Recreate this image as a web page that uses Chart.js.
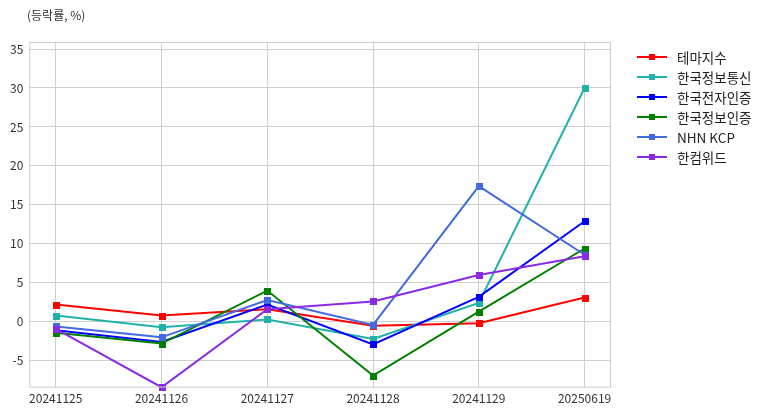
<!DOCTYPE html>
<html>
<head>
<meta charset="utf-8">
<script src="https://cdn.jsdelivr.net/npm/chart.js@4.4.0/dist/chart.umd.min.js"></script>
<style>
  html, body { margin: 0; padding: 0; background: #fff; }
  #wrap { width: 775px; height: 416px; position: relative; font-family: 'Noto Sans CJK KR', 'Noto Sans', sans-serif; }
  #yTitle { position: absolute; left: 27px; top: 6px; font-size: 12px; color: #333; line-height: 18px; }
  #legend { position: absolute; left: 637px; top: 47px; }
  .item { position: relative; height: 20px; line-height: 20px; font-size: 13.5px; color: #222; padding-left: 40px; white-space: nowrap; }
  .item .ln { position: absolute; left: 0; top: 9px; width: 30px; height: 2px; }
  .item .sq { position: absolute; left: 12px; top: 7px; width: 6px; height: 6px; }
</style>
</head>
<body>
<div id="wrap">
  <canvas id="rateChart"></canvas>
  <div id="yTitle">(등락률, %)</div>
  <div id="legend"></div>
</div>
<script>
// Data
const dates = ['20241125', '20241126', '20241127', '20241128', '20241129', '20250619'];
const seriesNames = ['테마지수', '한국정보통신', '한국전자인증', '한국정보인증', 'NHN KCP', '한컴위드'];
const themeIndex   = [2.2, 0.8, 1.6, -0.5, -0.2, 3.1];
const kicc         = [0.8, -0.7, 0.3, -2.2, 2.4, 30.0];
const crosscert    = [-1.1, -2.6, 2.2, -2.9, 3.2, 12.9];
const kica         = [-1.4, -2.8, 4.0, -6.9, 1.3, 9.4];
const nhnKcp       = [-0.6, -2.0, 2.8, -0.4, 17.4, 8.6];
const hancomWith   = [-0.9, -8.4, 1.6, 2.6, 6.0, 8.4];
const yTicks = [-5, 0, 5, 10, 15, 20, 25, 30, 35];

const seriesValues = [themeIndex, kicc, crosscert, kica, nhnKcp, hancomWith];
const seriesColors = ['#ff0000', '#20b2aa', '#0000ff', '#008000', '#4169e1', '#8a2be2'];
const FONT = "'Noto Sans CJK KR', 'Noto Sans', sans-serif";

// HTML legend: line with a square marker, then the name
const legendEl = document.getElementById('legend');
seriesNames.forEach((name, i) => {
    const row = document.createElement('div');
    row.className = 'item';
    row.innerHTML = '<span class="ln"></span><span class="sq"></span>';
    row.querySelector('.ln').style.background = seriesColors[i];
    row.querySelector('.sq').style.background = seriesColors[i];
    row.appendChild(document.createTextNode(name));
    legendEl.appendChild(row);
});

// Box around the plot area (all four sides)
const frameBox = {
    id: 'frameBox',
    afterDraw(chart) {
        const a = chart.chartArea;
        const c = chart.ctx;
        c.save();
        c.strokeStyle = '#cccccc';
        c.lineWidth = 1;
        c.strokeRect(a.left + 0.5, a.top + 0.5, a.right - a.left - 1, a.bottom - a.top - 1);
        c.restore();
    }
};

// Square markers drawn after all lines
const squareMarkers = {
    id: 'squareMarkers',
    afterDatasetsDraw(chart) {
        const c = chart.ctx;
        c.save();
        chart.data.datasets.forEach((ds, i) => {
            const meta = chart.getDatasetMeta(i);
            c.fillStyle = ds.borderColor;
            meta.data.forEach(pt => {
                c.fillRect(Math.round(pt.x) - 3, Math.round(pt.y) - 3, 7, 7);
            });
        });
        c.restore();
    }
};

const datasets = seriesNames.map((name, i) => ({
    label: name,
    data: seriesValues[i].map((v, k) => ({ x: k, y: v })),
    borderColor: seriesColors[i],
    backgroundColor: seriesColors[i],
    borderWidth: 2,
    pointRadius: 0,
    order: seriesNames.length - i,
    clip: false
}));

const ctx = document.getElementById('rateChart').getContext('2d');
new Chart(ctx, {
    type: 'line',
    data: { datasets: datasets },
    options: {
        responsive: true,
        maintainAspectRatio: false,
        animation: false,
        layout: { padding: { left: 4, right: 164, top: 42, bottom: 6 } },
        elements: { line: { tension: 0 } },
        plugins: {
            legend: { display: false },
            tooltip: { enabled: false }
        },
        scales: {
            x: {
                type: 'linear',
                min: -0.25,
                max: 5.25,
                grid: { color: '#d0d0d0', drawTicks: false },
                border: { display: false },
                ticks: {
                    stepSize: 1,
                    includeBounds: false,
                    autoSkip: false,
                    maxRotation: 0,
                    padding: 4,
                    color: '#333',
                    font: { family: FONT, size: 12 },
                    callback: v => dates[v] ?? ''
                }
            },
            y: {
                min: -8.45,
                max: 35.9,
                grid: { color: '#d0d0d0', drawTicks: false },
                border: { display: false },
                afterBuildTicks: scale => {
                    scale.ticks = yTicks.map(v => ({ value: v }));
                },
                ticks: {
                    padding: 6,
                    color: '#333',
                    font: { family: FONT, size: 12 }
                }
            }
        }
    },
    plugins: [frameBox, squareMarkers]
});
</script>
</body>
</html>
